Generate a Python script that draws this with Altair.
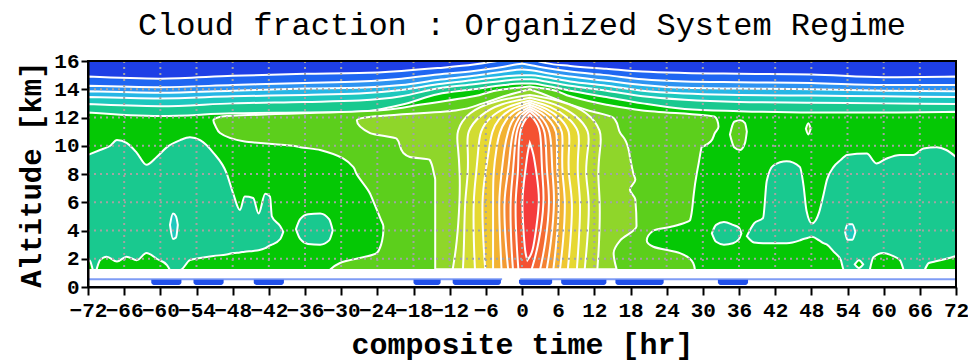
import altair as alt
import pandas as pd

# ---------------- text / ticks ----------------
TITLE = "Cloud fraction : Organized System Regime"
X_TITLE = "composite time [hr]"
Y_TITLE = "Altitude [km]"
X_TICKS = [-72, -66, -60, -54, -48, -42, -36, -30, -24, -18, -12, -6, 0,
           6, 12, 18, 24, 30, 36, 42, 48, 54, 60, 66, 72]
Y_TICKS = [0, 2, 4, 6, 8, 10, 12, 14, 16]
GRID_X = [-66, -60, -54, -48, -42, -36, -30, -24, -18, -12, -6, 0,
          6, 12, 18, 24, 30, 36, 42, 48, 54, 60, 66]
GRID_Y = [2, 4, 6, 8, 10, 12, 14]

# contour level colours (0 = lowest cloud fraction ... 18 = highest)
COLORS = ["#1e3fe6", "#1f66f2", "#2d93f2", "#26b6e6", "#1ec8be", "#19c98f",
          "#05c805", "#5ccf1c", "#8fd62a", "#b5da30", "#d2dc32", "#e6d832",
          "#efc832", "#f2b232", "#f39a32", "#f48232", "#f46a32", "#f45232",
          "#f43c3c"]

FIELD_BASE = 1.2

# ---------------- upper bands (top of each level, vs time) ----------------
BAND_T = [-72, -60, -48, -36, -27, -20, -14, -8, -3, 0, 1.5, 4, 8, 14, 20, 27, 36, 48, 60, 72]
TOP_L1 = [14.9, 14.75, 14.95, 15.1, 15.15, 15.3, 15.5, 15.75, 16.1, 16.4, 16.15, 15.85, 15.65, 15.45, 15.25, 15.15, 15.1, 15.05, 14.85, 14.9]
TOP_L2 = [14.25, 14.15, 14.3, 14.45, 14.55, 14.75, 15.05, 15.3, 15.6, 15.8, 15.7, 15.5, 15.25, 15.0, 14.7, 14.55, 14.5, 14.45, 14.3, 14.3]
TOP_L3 = [13.85, 13.75, 13.9, 14.05, 14.1, 14.3, 14.65, 14.95, 15.25, 15.4, 15.35, 15.15, 14.9, 14.6, 14.3, 14.1, 14.05, 14.0, 13.9, 13.85]
TOP_L4 = [13.45, 13.35, 13.5, 13.6, 13.7, 13.95, 14.35, 14.65, 14.9, 15.0, 15.0, 14.85, 14.55, 14.25, 13.9, 13.7, 13.6, 13.55, 13.5, 13.45]
TOP_L5 = [12.95, 12.8, 13.0, 13.1, 13.2, 13.5, 14.05, 14.35, 14.6, 14.7, 14.7, 14.55, 14.25, 13.9, 13.5, 13.25, 13.1, 13.05, 13.0, 12.95]
TOP_L6 = [12.35, 12.1, 12.3, 12.35, 12.4, 12.9, 13.65, 14.0, 14.3, 14.4, 14.4, 14.25, 13.9, 13.45, 13.0, 12.6, 12.45, 12.35, 12.35, 12.4]

# ---------------- teal (level 5) regions ----------------
TEAL_W_T = [-72, -70, -68.3, -67.2, -65.6, -63.9, -62.3, -60.6, -58.9, -56.7, -55.1, -53.4, -51.2, -49, -47.9, -46.8, -46.0, -44.6, -43.7, -42.6, -41.8, -41.5, -40.1, -39.6]
TEAL_W_HI = [9.35, 9.7, 10.0, 10.4, 10.2, 9.5, 8.65, 9.2, 9.9, 10.4, 10.6, 10.4, 9.5, 8.05, 6.6, 5.45, 6.4, 6.3, 5.2, 6.6, 6.4, 5.0, 4.3, 3.9]
TEAL_W_LO = [1.2, 1.2, 1.2, 1.2, 1.2, 1.2, 1.2, 1.2, 1.2, 1.2, 1.9, 2.05, 2.2, 2.3, 2.4, 2.45, 2.5, 2.55, 2.6, 2.75, 2.95, 3.0, 3.4, 3.9]

TEAL_W2_T = [-37.5, -36.8, -35.5, -33.5, -32.0, -31.4]
TEAL_W2_LO = [4.1, 3.4, 3.05, 3.0, 3.3, 4.0]
TEAL_W2_HI = [4.1, 4.8, 5.15, 5.2, 4.8, 4.0]

TEAL_E1_T = [31.5, 32.2, 33.5, 35.0, 36.0, 36.4]
TEAL_E1_LO = [3.8, 3.2, 3.0, 3.1, 3.4, 3.8]
TEAL_E1_HI = [3.8, 4.4, 4.6, 4.4, 4.2, 3.8]

TEAL_E_T = [37.3, 38.5, 40.0, 40.6, 41.7, 43.9, 46.1, 46.7, 47.2, 48.1, 49.3, 50.0, 50.6, 51.7, 52.9, 53.4, 53.9, 57.2, 58.8, 60.5, 62.7, 64.9, 66.6, 68.8, 70.4, 72]
TEAL_E_HI = [3.6, 4.5, 4.9, 7.5, 8.6, 8.9, 8.5, 7.2, 5.4, 4.5, 5.3, 6.5, 7.6, 8.5, 9.0, 9.2, 9.35, 9.45, 8.75, 9.1, 9.35, 9.35, 9.8, 9.9, 9.7, 9.2]
TEAL_E_LO = [3.6, 3.15, 3.1, 3.1, 3.1, 3.1, 3.3, 3.4, 3.45, 3.55, 3.3, 3.1, 3.0, 2.5, 1.9, 1.2, 1.2, 1.2, 1.2, 1.2, 1.2, 1.2, 1.2, 1.2, 1.2, 1.2]

# cyan (level 4) islands inside teal
CYAN_W_T = [-58.4, -57.9, -57.4, -57.1]
CYAN_W_LO = [4.4, 3.4, 3.5, 4.4]
CYAN_W_HI = [4.4, 5.2, 5.0, 4.4]
CYAN_E_T = [53.6, 54.0, 54.8, 55.3]
CYAN_E_LO = [3.9, 3.35, 3.35, 3.9]
CYAN_E_HI = [3.9, 4.45, 4.45, 3.9]

# green (level 6) islands near the ground inside teal
GRN_A_T = [-72, -71.6, -71.2]
GRN_A_HI = [2.0, 1.8, 1.2]
GRN_B_T = [-70.6, -70.0, -68.9, -67.2, -65.6, -63.9, -62.3, -60.6, -58.9, -58.4]
GRN_B_HI = [1.2, 1.9, 2.15, 1.8, 2.15, 1.9, 2.4, 2.0, 1.55, 1.2]
GRN_C_T = [55.2, 55.9, 56.6]
GRN_C_LO = [1.6, 1.35, 1.6]
GRN_C_HI = [1.6, 1.9, 1.6]
GRN_D_T = [57.7, 58.3, 59.9, 61.5, 62.7, 63.3]
GRN_D_HI = [1.2, 2.1, 2.4, 2.2, 1.9, 1.2]
GRN_E_T = [66.8, 67.5, 68.5, 70.4, 72]
GRN_E_HI = [1.2, 1.7, 1.8, 2.0, 2.2]

# ---------------- level 7 region (altitude -> left/right time) ----------------
L7_A = [1.2, 1.7, 2.4, 2.85, 3.3, 4.0, 4.3, 4.75, 6.2, 6.6, 8.05, 8.5, 9.7, 9.9, 10.0, 10.3, 10.9, 11.35, 11.8, 12.05, 12.5, 12.9, 13.5, 14.0, 14.2]
L7_L = [-31.9, -30.2, -24.1, -23.5, -23.2, -23.0, -23.0, -23.4, -24.8, -25.2, -27.5, -28.0, -33.5, -36.8, -38.0, -46.0, -50.1, -50.8, -51.2, -50.0, -24.0, -17.0, -8.0, -3.0, 1.3]
L7_R = [28.7, 28.4, 26.2, 21.8, 20.7, 21.8, 25.1, 27.9, 28.4, 28.5, 29.0, 29.2, 29.7, 29.8, 30.3, 31.3, 32.0, 32.6, 32.4, 32.0, 20.0, 14.0, 8.0, 4.5, 1.3]
L7_I1_T = [34.5, 35.2, 36.2, 37.0, 37.3]
L7_I1_LO = [10.8, 9.9, 9.7, 10.2, 11.0]
L7_I1_HI = [10.8, 11.7, 11.8, 11.6, 11.0]
L7_I2_T = [47.1, 47.5, 47.9]
L7_I2_LO = [11.2, 10.8, 11.2]
L7_I2_HI = [11.2, 11.6, 11.2]

# ---------------- level 8 region ----------------
L8_A = [1.25, 2.4, 3.3, 4.3, 6.2, 6.9, 7.6, 8.0, 9.0, 9.2, 9.5, 10.5, 10.9, 11.8, 12.0, 12.5, 13.0, 13.5, 14.0]
L8_L = [-14.4, -14.4, -14.4, -14.4, -14.4, -14.4, -14.4, -14.6, -15.3, -18.6, -19.7, -20.8, -25.2, -27.4, -26.0, -11.0, -6.5, -3.0, 1.3]
L8_R = [15.7, 15.2, 16.3, 19.0, 18.8, 17.9, 18.8, 18.5, 18.0, 17.9, 17.8, 17.0, 16.3, 15.5, 15.1, 11.0, 7.5, 4.5, 1.3]

# ---------------- convective core levels 9..18 ----------------
L9_A = [1.25, 3.0, 6.2, 8.0, 10.0, 11.0, 12.4, 13.2, 13.6]
L9_L = [-11.5, -10.8, -10.3, -10.3, -10.6, -11.0, -9.0, -4.5, 1.3]
L9_R = [12.5, 12.8, 13.0, 12.5, 13.0, 13.3, 11.0, 6.5, 1.3]
L10_A = [1.25, 3.0, 6.2, 8.0, 10.0, 11.0, 12.2, 13.0, 13.4]
L10_L = [-9.8, -9.6, -9.5, -8.9, -9.0, -9.2, -7.0, -3.5, 1.3]
L10_R = [10.4, 10.8, 11.3, 10.4, 11.0, 11.3, 9.0, 5.5, 1.3]
L11_A = [1.25, 3.0, 6.2, 8.0, 10.0, 11.0, 12.0, 12.8, 13.2]
L11_L = [-7.8, -8.0, -8.1, -7.6, -7.2, -7.0, -5.5, -2.5, 1.3]
L11_R = [9.1, 9.4, 9.8, 9.1, 9.4, 9.6, 7.8, 4.8, 1.3]
L12_A = [1.25, 3.0, 6.2, 8.0, 10.0, 11.0, 11.9, 12.65, 13.05]
L12_L = [-6.1, -6.4, -6.7, -6.1, -5.4, -5.0, -4.0, -1.8, 1.3]
L12_R = [7.6, 8.0, 8.5, 7.6, 7.8, 8.0, 6.6, 4.2, 1.3]
L13_A = [1.25, 3.0, 6.2, 8.0, 10.0, 11.0, 11.8, 12.5, 12.9]
L13_L = [-4.8, -4.8, -4.8, -4.8, -4.2, -3.7, -2.8, -1.2, 1.3]
L13_R = [6.3, 6.8, 7.3, 6.6, 6.7, 6.8, 5.7, 3.8, 1.3]
L14_A = [1.25, 3.0, 6.2, 8.0, 10.0, 11.0, 11.7, 12.35, 12.75]
L14_L = [-3.4, -3.6, -3.9, -3.4, -2.9, -2.3, -1.8, -0.6, 1.3]
L14_R = [5.2, 5.7, 6.3, 5.8, 5.8, 5.8, 4.9, 3.3, 1.3]
L15_A = [1.25, 3.0, 6.2, 8.0, 10.0, 11.0, 11.6, 12.2, 12.6]
L15_L = [-2.3, -2.7, -3.1, -2.3, -1.9, -1.5, -1.0, -0.2, 1.3]
L15_R = [4.1, 4.8, 5.5, 5.0, 4.9, 4.6, 4.0, 2.9, 1.3]
L16_A = [1.25, 3.0, 6.2, 8.0, 10.0, 11.0, 11.5, 12.05, 12.45]
L16_L = [-1.5, -1.8, -2.0, -1.5, -1.2, -0.9, -0.5, 0.2, 1.3]
L16_R = [3.0, 3.9, 4.7, 4.1, 4.0, 3.8, 3.3, 2.5, 1.3]
L17_A = [1.25, 3.0, 6.2, 8.0, 10.0, 11.0, 11.4, 11.85, 12.2]
L17_L = [-0.6, -0.9, -1.2, -0.6, -0.6, -0.3, 0.0, 0.5, 1.3]
L17_R = [1.6, 2.8, 3.8, 3.3, 3.2, 3.0, 2.7, 2.1, 1.3]
L18_A = [1.9, 2.4, 4.3, 6.2, 8.05, 9.5, 10.2]
L18_L = [0.9, 0.5, 0.2, -0.05, 0.5, 0.9, 1.3]
L18_R = [0.9, 1.8, 2.4, 3.0, 2.4, 1.9, 1.3]

# ---------------- near-surface layer ----------------
SFC_LINE_START = [-72, -0.3]
SFC_LINE_END = [-3.3, 72]
SFC_LINE_ALT = 0.55
BLOB_START = [-61.5, -54.5, -44.5, -18.0, -11.5, -0.5, 6.5, 15.5, 32.5]
BLOB_END = [-56.5, -49.5, -39.5, -13.5, -3.5, 5.0, 14.0, 23.5, 37.5]
BLOB_TOP = 0.52
BLOB_BOTTOM = 0.15

# ---------------- chart construction ----------------
W, H = 868, 226
XS = alt.Scale(domain=[-72, 72], nice=False, zero=False)
YS = alt.Scale(domain=[0, 16], nice=False, zero=False)
FONT = "Liberation Mono"

XAX = alt.Axis(values=X_TICKS, title=X_TITLE, grid=False, tickSize=8,
               labelOverlap=False, labelFlush=False, format="d", labelPadding=4,
               titlePadding=9, titleFontSize=30, zindex=1)
YAX = alt.Axis(values=Y_TICKS, title=Y_TITLE, grid=False, tickSize=7,
               labelOverlap=False, labelFlush=False, format="d", labelPadding=2,
               titlePadding=7, titleFontSize=29, zindex=1)

LINE_W = 2


def X(field):
    return alt.X(field, scale=XS, axis=XAX, title=X_TITLE)


def Y(field):
    return alt.Y(field, scale=YS, axis=YAX, title=Y_TITLE)


def XD(v):
    return alt.XDatum(v, scale=XS, axis=XAX, title=X_TITLE, type="quantitative")


def YD(v):
    return alt.YDatum(v, scale=YS, axis=YAX, title=Y_TITLE, type="quantitative")


def varea(ts, lo, hi, level, stroke=True, interp="monotone"):
    df = pd.DataFrame({"t": ts, "lo": lo, "hi": hi})
    kw = dict(interpolate=interp, fill=COLORS[level], opacity=1, clip=True)
    if stroke:
        kw.update(stroke="white", strokeWidth=LINE_W)
    return alt.Chart(df).mark_area(**kw).encode(
        x=X("t:Q"), y=Y("hi:Q"), y2="lo:Q")


def harea(a, l, r, level, interp="basis"):
    df = pd.DataFrame({"a": a, "l": l, "r": r})
    return alt.Chart(df).mark_area(orient="horizontal", interpolate=interp,
                                   fill=COLORS[level], opacity=1, clip=True,
                                   stroke="white", strokeWidth=LINE_W).encode(
        y=Y("a:Q"), x=X("l:Q"), x2="r:Q")


def base_list(n, v):
    return [v] * n


layers = []
# background darkest level
layers.append(varea([-72, 72], [FIELD_BASE, FIELD_BASE], [16, 16], 0, stroke=False))
for lvl, top in zip([1, 2, 3, 4, 5, 6], [TOP_L1, TOP_L2, TOP_L3, TOP_L4, TOP_L5, TOP_L6]):
    layers.append(varea(BAND_T, base_list(len(BAND_T), FIELD_BASE), top, lvl))

# teal regions
layers.append(varea(TEAL_W_T, TEAL_W_LO, TEAL_W_HI, 5))
layers.append(varea(TEAL_W2_T, TEAL_W2_LO, TEAL_W2_HI, 5))
layers.append(varea(TEAL_E1_T, TEAL_E1_LO, TEAL_E1_HI, 5))
layers.append(varea(TEAL_E_T, TEAL_E_LO, TEAL_E_HI, 5))
layers.append(varea(CYAN_W_T, CYAN_W_LO, CYAN_W_HI, 4))
layers.append(varea(CYAN_E_T, CYAN_E_LO, CYAN_E_HI, 4))
# green islands near ground
layers.append(varea(GRN_A_T, base_list(3, FIELD_BASE), GRN_A_HI, 6))
layers.append(varea(GRN_B_T, base_list(len(GRN_B_T), FIELD_BASE), GRN_B_HI, 6))
layers.append(varea(GRN_C_T, GRN_C_LO, GRN_C_HI, 6))
layers.append(varea(GRN_D_T, base_list(len(GRN_D_T), FIELD_BASE), GRN_D_HI, 6))
layers.append(varea(GRN_E_T, base_list(len(GRN_E_T), FIELD_BASE), GRN_E_HI, 6))

# level 7 and 8
layers.append(harea(L7_A, L7_L, L7_R, 7, interp="monotone"))
layers.append(varea(L7_I1_T, L7_I1_LO, L7_I1_HI, 7))
layers.append(varea(L7_I2_T, L7_I2_LO, L7_I2_HI, 7))
layers.append(harea(L8_A, L8_L, L8_R, 8, interp="monotone"))

# core levels
for lvl, (a, l, r) in zip(range(9, 19), [
        (L9_A, L9_L, L9_R), (L10_A, L10_L, L10_R), (L11_A, L11_L, L11_R),
        (L12_A, L12_L, L12_R), (L13_A, L13_L, L13_R), (L14_A, L14_L, L14_R),
        (L15_A, L15_L, L15_R), (L16_A, L16_L, L16_R), (L17_A, L17_L, L17_R),
        (L18_A, L18_L, L18_R)]):
    layers.append(harea(a, l, r, lvl))

# near-surface line and blobs
sfc = pd.DataFrame({"s": SFC_LINE_START, "e": SFC_LINE_END})
layers.append(alt.Chart(sfc).mark_rule(color="#7f9cf5", strokeWidth=2).encode(
    x=X("s:Q"), x2="e:Q", y=YD(SFC_LINE_ALT)))
blobs = pd.DataFrame({"s": BLOB_START, "e": BLOB_END})
layers.append(alt.Chart(blobs).mark_rect(color="#2150ea", cornerRadiusBottomLeft=4,
                                         cornerRadiusBottomRight=4).encode(
    x=X("s:Q"), x2="e:Q", y=YD(BLOB_TOP), y2=alt.datum(BLOB_BOTTOM)))

# dotted grid
gx = pd.DataFrame({"t": GRID_X})
layers.append(alt.Chart(gx).mark_rule(color="#a3a3a3", strokeWidth=2, strokeDash=[2, 4]).encode(
    x=X("t:Q"), y=YD(16), y2=alt.datum(FIELD_BASE)))
gy = pd.DataFrame({"a": GRID_Y})
layers.append(alt.Chart(gy).mark_rule(color="#a3a3a3", strokeWidth=2, strokeDash=[2, 4]).encode(
    y=Y("a:Q"), x=XD(-72), x2=alt.datum(72)))

# frame
frame = pd.DataFrame({"k": [0]})
layers.append(alt.Chart(frame).mark_rect(fillOpacity=0, stroke="black", strokeWidth=2).encode(
    x=XD(-72), x2=alt.datum(72), y=YD(0), y2=alt.datum(16)))

chart = alt.layer(*layers).properties(
    width=W, height=H,
    title=alt.TitleParams(TITLE, fontSize=32, font=FONT, fontWeight="normal",
                          anchor="middle", offset=8, color="black"),
    padding={"left": 88, "top": 61, "right": 12, "bottom": 76},
    autosize=alt.AutoSizeParams(type="none"),
).configure_view(strokeWidth=0).configure_axis(
    domainColor="black", domainWidth=2, tickColor="black", tickWidth=2,
    labelColor="black", titleColor="black", labelFont=FONT, titleFont=FONT,
    labelFontSize=21, labelFontWeight="bold", titleFontWeight="bold",
)

chart.save("out.html", embed_options={"renderer": "svg", "actions": False})
